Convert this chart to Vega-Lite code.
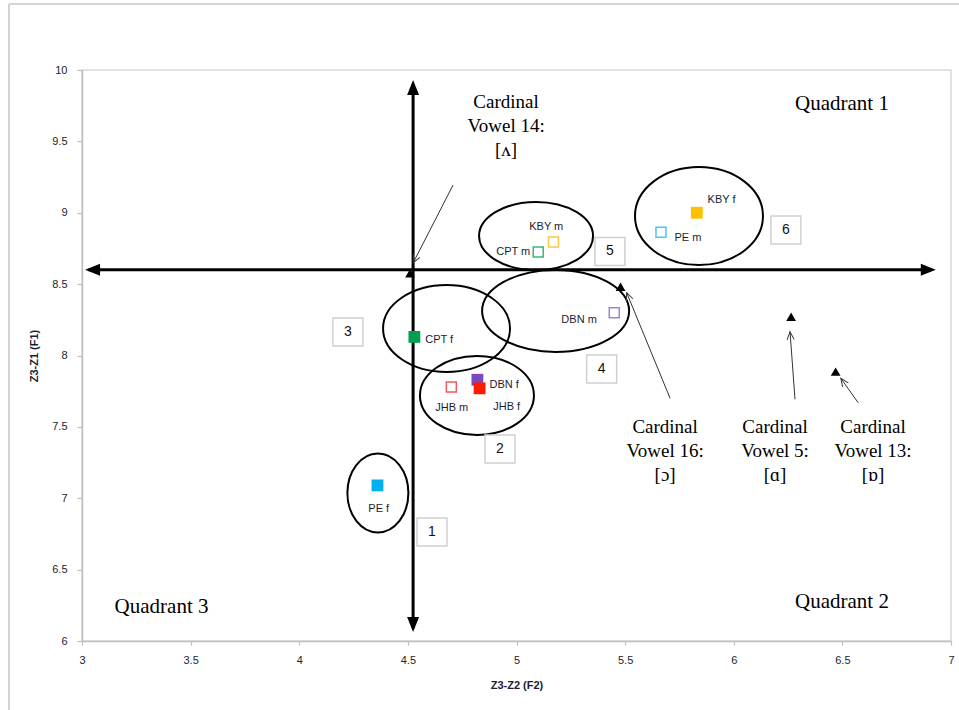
{
  "$schema": "https://vega.github.io/schema/vega-lite/v6.json",
  "width": 869,
  "height": 571,
  "autosize": "none",
  "padding": {"left": 82, "top": 70, "right": 8, "bottom": 69},
  "background": "white",
  "config": {"view": {"stroke": "#d9d9d9", "strokeWidth": 1.5}},
  "datasets": {
    "speakers": [
      {"speaker": "PE f", "sex": "f", "F2": 4.36, "F1": 7.09},
      {"speaker": "CPT f", "sex": "f", "F2": 4.53, "F1": 8.13},
      {"speaker": "JHB m", "sex": "m", "F2": 4.70, "F1": 7.78},
      {"speaker": "DBN f", "sex": "f", "F2": 4.82, "F1": 7.83},
      {"speaker": "JHB f", "sex": "f", "F2": 4.83, "F1": 7.77},
      {"speaker": "CPT m", "sex": "m", "F2": 5.10, "F1": 8.725},
      {"speaker": "KBY m", "sex": "m", "F2": 5.17, "F1": 8.795},
      {"speaker": "DBN m", "sex": "m", "F2": 5.45, "F1": 8.30},
      {"speaker": "PE m", "sex": "m", "F2": 5.665, "F1": 8.863},
      {"speaker": "KBY f", "sex": "f", "F2": 5.83, "F1": 9.0}
    ],
    "labels": [
      {"text": "KBY f", "F2": 5.944, "F1": 9.089},
      {"text": "PE m", "F2": 5.789, "F1": 8.821},
      {"text": "KBY m", "F2": 5.137, "F1": 8.898},
      {"text": "CPT m", "F2": 4.985, "F1": 8.727},
      {"text": "DBN m", "F2": 5.288, "F1": 8.249},
      {"text": "CPT f", "F2": 4.644, "F1": 8.109},
      {"text": "DBN f", "F2": 4.943, "F1": 7.793},
      {"text": "JHB f", "F2": 4.955, "F1": 7.641},
      {"text": "JHB m", "F2": 4.702, "F1": 7.630},
      {"text": "PE f", "F2": 4.366, "F1": 6.922}
    ],
    "cardinal": [
      {"vowel": "CV14", "F2": 4.51, "F1": 8.576},
      {"vowel": "CV16", "F2": 5.479, "F1": 8.482},
      {"vowel": "CV5", "F2": 6.264, "F1": 8.272},
      {"vowel": "CV13", "F2": 6.469, "F1": 7.887}
    ],
    "pointers": [
      {"vowel": "CV14", "F2": 4.524, "F1": 8.648, "F2b": 4.708, "F1b": 9.194},
      {"vowel": "CV16", "F2": 5.507, "F1": 8.44, "F2b": 5.707, "F1b": 7.70},
      {"vowel": "CV5", "F2": 6.259, "F1": 8.167, "F2b": 6.282, "F1b": 7.693},
      {"vowel": "CV13", "F2": 6.493, "F1": 7.84, "F2b": 6.573, "F1b": 7.669}
    ],
    "quadrantAxes": [
      {"axis": "F2", "F2": 3.03, "F1": 8.6, "F2b": 6.91, "F1b": 8.6},
      {"axis": "F1", "F2": 4.524, "F1": 6.09, "F2b": 4.524, "F1b": 9.90}
    ],
    "arrowTips": [
      {"dir": "left", "F2": 3.014, "F1": 8.6},
      {"dir": "right", "F2": 6.93, "F1": 8.6},
      {"dir": "up", "F2": 4.524, "F1": 9.93},
      {"dir": "down", "F2": 4.524, "F1": 6.063}
    ],
    "clusters": [
      {"cluster": "1", "F2": 4.362, "F1": 7.037},
      {"cluster": "3", "F2": 4.678, "F1": 8.189},
      {"cluster": "4", "F2": 5.180, "F1": 8.312},
      {"cluster": "2", "F2": 4.818, "F1": 7.720},
      {"cluster": "5", "F2": 5.090, "F1": 8.837},
      {"cluster": "6", "F2": 5.840, "F1": 8.977}
    ],
    "boxes": [
      {"n": "1", "F2": 4.611, "F1": 6.764},
      {"n": "2", "F2": 4.924, "F1": 7.345},
      {"n": "3", "F2": 4.224, "F1": 8.165},
      {"n": "4", "F2": 5.392, "F1": 7.905},
      {"n": "5", "F2": 5.430, "F1": 8.729},
      {"n": "6", "F2": 6.240, "F1": 8.879}
    ],
    "notes": [
      {"text": "Cardinal\nVowel 14:\n[ʌ]", "F2": 4.952, "F1": 9.734},
      {"text": "Cardinal\nVowel 16:\n[ɔ]", "F2": 5.684, "F1": 7.457},
      {"text": "Cardinal\nVowel 5:\n[ɑ]", "F2": 6.190, "F1": 7.457},
      {"text": "Cardinal\nVowel 13:\n[ɒ]", "F2": 6.641, "F1": 7.457}
    ],
    "quadrants": [
      {"text": "Quadrant 1", "F2": 6.498, "F1": 9.72},
      {"text": "Quadrant 2", "F2": 6.498, "F1": 6.231},
      {"text": "Quadrant 3", "F2": 3.366, "F1": 6.196}
    ],
    "frame": [
      {"side": "left", "F2": 2.664, "F1": 10.462, "F2b": 2.664, "F1b": 5.4},
      {"side": "top", "F2": 2.664, "F1": 10.462, "F2b": 7.1, "F1b": 10.462}
    ]
  },
  "encoding": {
    "x": {
      "field": "F2", "type": "quantitative",
      "scale": {"domain": [3, 7], "nice": false, "zero": false},
      "axis": {"title": "Z3-Z2 (F2)", "values": [3, 3.5, 4, 4.5, 5, 5.5, 6, 6.5, 7], "format": "~g", "grid": false,
        "domainColor": "#bfbfbf", "domainWidth": 1.5, "tickColor": "#bfbfbf", "tickSize": 4, "tickWidth": 1.2,
        "labelFont": "Liberation Sans", "labelFontSize": 11, "labelColor": "#1c1c30", "labelPadding": 9,
        "labelFlush": false, "labelOverlap": false,
        "titleFont": "Liberation Sans", "titleFontSize": 11, "titleFontWeight": "bold", "titleColor": "#1c1c30", "titlePadding": 14}
    },
    "y": {
      "field": "F1", "type": "quantitative",
      "scale": {"domain": [6, 10], "nice": false, "zero": false},
      "axis": {"title": "Z3-Z1 (F1)", "values": [6, 6.5, 7, 7.5, 8, 8.5, 9, 9.5, 10], "format": "~g", "grid": false,
        "domainColor": "#bfbfbf", "domainWidth": 1.5, "tickColor": "#bfbfbf", "tickSize": 5, "tickWidth": 1.2,
        "labelFont": "Liberation Sans", "labelFontSize": 11, "labelColor": "#1c1c30", "labelPadding": 10,
        "labelFlush": false, "labelOverlap": false,
        "titleFont": "Liberation Sans", "titleFontSize": 11, "titleFontWeight": "bold", "titleColor": "#1c1c30", "titlePadding": 12}
    }
  },
  "resolve": {"scale": {"shape": "independent", "angle": "independent"}},
  "layer": [
    {
      "data": {"name": "frame"},
      "mark": {"type": "rule", "color": "#d4d4d4", "strokeWidth": 2},
      "encoding": {"x2": {"field": "F2b"}, "y2": {"field": "F1b"}}
    },
    {
      "data": {"name": "quadrantAxes"},
      "mark": {"type": "rule", "color": "#000", "strokeWidth": 3},
      "encoding": {"x2": {"field": "F2b"}, "y2": {"field": "F1b"}}
    },
    {
      "data": {"name": "arrowTips"},
      "mark": {"type": "point", "filled": true, "color": "#000", "opacity": 1, "size": 4},
      "encoding": {
        "shape": {"field": "dir", "type": "nominal", "legend": null,
          "scale": {"domain": ["up", "down", "left", "right"],
            "range": ["M0,0L6,15L-6,15Z", "M0,0L6,-15L-6,-15Z", "M0,0L15,-6L15,6Z", "M0,0L-15,-6L-15,6Z"]}}
      }
    },
    {
      "data": {"name": "clusters"},
      "mark": {"type": "point", "filled": false, "stroke": "#000", "strokeWidth": 2, "opacity": 1, "size": 4},
      "encoding": {
        "shape": {"field": "cluster", "type": "nominal", "legend": null,
          "scale": {"domain": ["1", "2", "3", "4", "5", "6"],
            "range": [
              "M-30.5,0C-30.5,-21.82,-16.85,-39.5,0,-39.5C16.85,-39.5,30.5,-21.82,30.5,0C30.5,21.82,16.85,39.5,0,39.5C-16.85,39.5,-30.5,21.82,-30.5,0Z",
              "M-57,0C-57,-21.82,-31.48,-39.5,0,-39.5C31.48,-39.5,57,-21.82,57,0C57,21.82,31.48,39.5,0,39.5C-31.48,39.5,-57,21.82,-57,0Z",
              "M-63.5,0C-63.5,-24.02,-35.07,-43.5,0,-43.5C35.07,-43.5,63.5,-24.02,63.5,0C63.5,24.02,35.07,43.5,0,43.5C-35.07,43.5,-63.5,24.02,-63.5,0Z",
              "M-73.5,0C-73.5,-22.64,-40.59,-41,0,-41C40.59,-41,73.5,-22.64,73.5,0C73.5,22.64,40.59,41,0,41C-40.59,41,-73.5,22.64,-73.5,0Z",
              "M-57,0C-57,-18.78,-31.48,-34,0,-34C31.48,-34,57,-18.78,57,0C57,18.78,31.48,34,0,34C-31.48,34,-57,18.78,-57,0Z",
              "M-64,0C-64,-27.06,-35.35,-49,0,-49C35.35,-49,64,-27.06,64,0C64,27.06,35.35,49,0,49C-35.35,49,-64,27.06,-64,0Z"
            ]}}
      }
    },
    {
      "data": {"name": "boxes"},
      "mark": {"type": "point", "shape": "M-15,-14H15V14H-15Z", "size": 4, "filled": true, "fill": "#fff", "stroke": "#d0d0d0", "strokeWidth": 1.5, "opacity": 1}
    },
    {
      "data": {"name": "boxes"},
      "mark": {"type": "text", "font": "Liberation Sans", "fontSize": 14, "color": "#111", "align": "center", "baseline": "middle"},
      "encoding": {"text": {"field": "n", "type": "nominal"}}
    },
    {
      "data": {"name": "pointers"},
      "mark": {"type": "rule", "color": "#333", "strokeWidth": 1},
      "encoding": {"x2": {"field": "F2b"}, "y2": {"field": "F1b"}}
    },
    {
      "data": {"name": "pointers"},
      "mark": {"type": "point", "shape": "M-3.5,8L0,0L3.5,8", "size": 4, "filled": false, "stroke": "#333", "strokeWidth": 1, "opacity": 1},
      "encoding": {
        "angle": {"field": "vowel", "type": "nominal", "legend": null,
          "scale": {"type": "ordinal", "domain": ["CV14", "CV16", "CV5", "CV13"], "range": [206.6, 337.7, 355.8, 324.7]}}
      }
    },
    {
      "data": {"name": "cardinal"},
      "mark": {"type": "point", "shape": "triangle-up", "size": 95, "filled": true, "color": "#000", "opacity": 1}
    },
    {
      "data": {"name": "speakers"},
      "transform": [{"filter": "datum.sex === 'f'"}],
      "mark": {"type": "point", "shape": "square", "size": 140, "filled": true, "opacity": 1},
      "encoding": {
        "color": {"field": "speaker", "type": "nominal", "legend": null,
          "scale": {"domain": ["PE f", "PE m", "CPT f", "CPT m", "JHB f", "JHB m", "DBN f", "DBN m", "KBY f", "KBY m"],
            "range": ["#00B0F0", "#4FC3F0", "#00A050", "#3DB878", "#FF1A00", "#F05A5A", "#7A48C0", "#A283D0", "#FFC000", "#FFC845"]}}
      }
    },
    {
      "data": {"name": "speakers"},
      "transform": [{"filter": "datum.sex === 'm'"}],
      "mark": {"type": "point", "shape": "square", "size": 100, "filled": false, "strokeWidth": 1.5, "opacity": 1},
      "encoding": {
        "color": {"field": "speaker", "type": "nominal", "legend": null}
      }
    },
    {
      "data": {"name": "labels"},
      "mark": {"type": "text", "font": "Liberation Sans", "fontSize": 11, "color": "#1c1c30", "align": "center", "baseline": "middle"},
      "encoding": {"text": {"field": "text", "type": "nominal"}}
    },
    {
      "data": {"name": "notes"},
      "mark": {"type": "text", "font": "Liberation Serif", "fontSize": 19, "lineHeight": 24, "lineBreak": "\n", "color": "#000", "align": "center", "baseline": "alphabetic"},
      "encoding": {"text": {"field": "text", "type": "nominal"}}
    },
    {
      "data": {"name": "quadrants"},
      "mark": {"type": "text", "font": "Liberation Serif", "fontSize": 21, "color": "#000", "align": "center", "baseline": "alphabetic"},
      "encoding": {"text": {"field": "text", "type": "nominal"}}
    }
  ]
}
